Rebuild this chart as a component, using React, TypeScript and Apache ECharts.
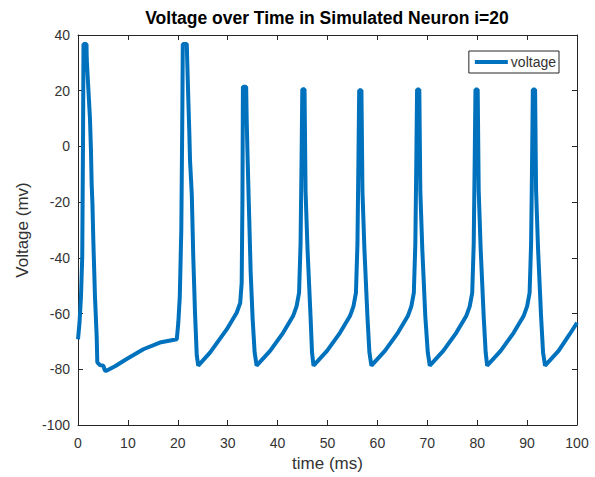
import React, { useEffect, useRef } from "react";
import * as echarts from "echarts";

const times: number[] = [
  0, 0.3, 0.6, 0.85, 1.0, 1.1, 1.7, 1.75, 2.07, 2.4, 2.6, 2.74, 2.9, 3.07, 3.4, 3.74, 3.87, 4.4, 5.07, 5.4, 5.7, 7.5, 9.75, 13.1, 16.4, 19.8,
  20.1, 20.4, 20.7, 20.9, 21.0, 21.8, 21.9, 22.1, 22.3, 22.45, 22.8, 23.1, 23.45, 23.8, 24.1,
  26.45, 29.8, 31.8, 32.5, 32.8, 32.95, 33.05, 33.7, 33.8, 34.0, 34.3, 34.6, 35.0, 35.4, 35.8,
  38.5, 41.1, 43.1, 43.8, 44.3, 44.6, 44.8, 44.95, 45.4, 45.6, 46.0, 46.6, 46.9, 47.2,
  49.9, 52.5, 54.5, 55.2, 55.7, 56.0, 56.2, 56.35, 56.8, 57.0, 57.4, 58.0, 58.4, 58.8,
  61.5, 64.1, 66.1, 66.8, 67.3, 67.6, 67.8, 67.95, 68.4, 68.6, 69.0, 69.6, 70.1, 70.5,
  73.2, 75.8, 77.8, 78.5, 79.0, 79.3, 79.5, 79.65, 80.1, 80.3, 80.7, 81.3, 81.7, 82.0,
  84.7, 87.3, 89.3, 90.0, 90.5, 90.8, 91.0, 91.15, 91.6, 91.8, 92.2, 92.8, 93.2, 93.6,
  96.3, 98.5, 100,
];

const voltage: number[] = [
  -69.2, -63.3, -53.8, -39.6, 0, 36.8, 36.8, 31.5, 20.8, 10, -1.6, -13.6, -21, -33.7, -53.8, -68, -77.5, -78.5, -78.7, -80.5, -80.5, -78.8, -76.3, -72.8, -70.4, -69.2,
  -63.3, -53.8, -30, 10, 36.8, 36.8, 30, 17.3, 5.5, -5, -17, -39.6, -59.7, -75, -78.7,
  -74, -65.7, -59.7, -56.2, -49, -20, 21.4, 21.4, 10, -5, -25, -45, -62, -74, -78.7,
  -73.4, -66.9, -60.9, -57.4, -52.6, -35, -5, 20.5, 20.5, -15.8, -37, -61, -74, -78.7,
  -73.4, -66.9, -60.9, -57.4, -52.6, -35, -5, 20.2, 20.2, -15.8, -37, -61, -74, -78.7,
  -73.4, -66.9, -60.9, -57.4, -52.6, -35, -5, 20.4, 20.4, -15.8, -37, -61, -74, -78.7,
  -73.4, -66.9, -60.9, -57.4, -52.6, -35, -5, 20.4, 20.4, -15.8, -37, -61, -74, -78.7,
  -73.4, -66.9, -60.9, -57.4, -52.6, -35, -5, 20.4, 20.4, -15.8, -37, -61, -74, -78.7,
  -73.4, -67.5, -63.3,
];

const titleText = "Voltage over Time in Simulated Neuron i=20";
const xLabel = "time (ms)";
const yLabel = "Voltage (mv)";
const seriesName = "voltage";

export default function App() {
  const ref = useRef<HTMLDivElement>(null);
  useEffect(() => {
    if (!ref.current) return;
    const chart = echarts.init(ref.current, undefined, { renderer: "svg" });
    const font = "Liberation Sans, Arial, sans-serif";
    const axisCol = "#262626";
    const textCol = "#333333";
    const data = times.map((t, i) => [t, voltage[i]]);
    const common = {
      axisLine: { show: true, onZero: false, lineStyle: { color: axisCol, width: 1 } },
      axisTick: { show: true, inside: true, length: 5, lineStyle: { color: axisCol } },
      splitLine: { show: false },
    };
    chart.setOption({
      animation: false,
      backgroundColor: "#fff",
      title: {
        text: titleText,
        left: 327,
        textAlign: "center",
        top: 9,
        padding: 0,
        textStyle: { fontFamily: font, fontSize: 17.5, fontWeight: "bold", color: "#000" },
      },
      grid: { left: 78, right: 18, top: 35, bottom: 46, containLabel: false },
      legend: {
        data: [seriesName],
        right: 36,
        top: 51,
        icon: "rect",
        itemWidth: 33,
        itemHeight: 4,
        itemGap: 4,
        borderColor: axisCol,
        borderWidth: 1,
        borderRadius: 0,
        padding: [4, 3, 4, 6],
        backgroundColor: "#fff",
        textStyle: { fontFamily: font, fontSize: 14, color: textCol, padding: [0, 0, 0, -2] },
      },
      xAxis: [
        {
          type: "value", min: 0, max: 100, interval: 10, position: "bottom",
          name: xLabel, nameLocation: "middle", nameGap: 30,
          nameTextStyle: { fontFamily: font, fontSize: 17, color: textCol },
          axisLabel: { fontFamily: font, fontSize: 14, color: textCol, margin: 11 },
          ...common,
        },
        {
          type: "value", min: 0, max: 100, interval: 10, position: "top",
          axisLabel: { show: false },
          ...common,
        },
      ],
      yAxis: [
        {
          type: "value", min: -100, max: 40, interval: 20, position: "left",
          name: yLabel, nameLocation: "middle", nameGap: 40,
          nameTextStyle: { fontFamily: font, fontSize: 17, color: textCol },
          axisLabel: { fontFamily: font, fontSize: 14, color: textCol, margin: 8 },
          ...common,
        },
        {
          type: "value", min: -100, max: 40, interval: 20, position: "right",
          axisLabel: { show: false },
          ...common,
        },
      ],
      series: [
        {
          name: seriesName,
          type: "line",
          data,
          showSymbol: false,
          symbol: "none",
          lineStyle: { color: "#0072BD", width: 4 },
          itemStyle: { color: "#0072BD" },
          xAxisIndex: 0,
          yAxisIndex: 0,
        },
      ],
    });
    return () => chart.dispose();
  }, []);
  return <div ref={ref} style={{ width: 595, height: 477, position: "absolute", left: 0, top: 0 }} />;
}
